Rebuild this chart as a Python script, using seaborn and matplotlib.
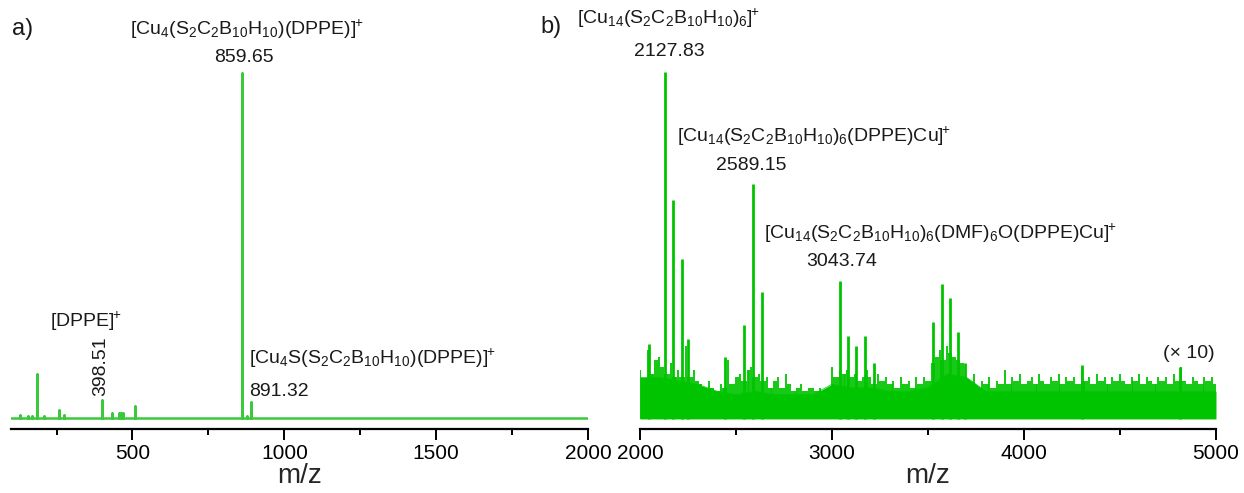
import numpy as np
import pandas as pd
import matplotlib
matplotlib.use("Agg")
import matplotlib.pyplot as plt
from matplotlib.ticker import MultipleLocator
import seaborn as sns

# ---------------- data ----------------
# panel a: stick peaks (m/z, relative intensity)
a_mz = [130, 155, 170, 187, 210, 257, 275, 398.51, 434, 455, 462, 468, 507, 859.65, 878, 891.32]
a_int = [0.8, 0.6, 0.5, 12.8, 0.5, 2.3, 0.8, 5.2, 1.5, 1.4, 1.3, 1.4, 3.5, 100, 0.6, 4.6]
a_range = [100, 2000]

# panel b: noise spike tops every 20 m/z from 2000 to 5000 (x10 expanded)
b_noise_start, b_noise_step = 2000, 20
b_noise = [14, 11, 20, 13, 17, 18,
           15, 13, 16, 12, 14, 12, 21, 12, 14, 11,
           10, 8, 11, 9, 8, 10, 9, 17, 10, 12,
           13, 11, 14, 15, 12, 13, 11, 12, 9, 11,
           12, 9, 13, 10, 8, 9, 10, 8, 9, 9,
           8, 9, 7, 8, 15, 12, 14, 13, 14, 12,
           13, 11, 12, 14, 12, 10, 13, 11, 12, 10,
           11, 9, 12, 10, 11, 9, 12, 10, 12, 11,
           16, 18, 20, 17, 21, 19, 18, 17, 16, 12,
           10, 13, 9, 11, 10, 12, 9, 11, 10, 14,
           10, 12, 11, 13, 10, 11, 12, 10, 13, 11,
           10, 12, 11, 13, 10, 12, 11, 12, 10, 15,
           11, 12, 10, 13, 11, 12, 10, 12, 11, 13,
           11, 10, 12, 11, 13, 10, 12, 11, 10, 12,
           11, 12, 10, 13, 11, 15, 11, 10, 12, 11,
           10, 12, 11, 12, 10]
# panel b: solid noise floor every 100 m/z from 2000 to 5000
b_floor_step = 100
b_floor = [12, 12, 11, 10, 8, 7, 8, 7, 7, 7,
           10, 9, 9, 8, 8, 9, 13, 12, 8, 8,
           8, 8, 8, 8, 8, 8, 8, 8, 8, 8, 8]
# panel b: stick peaks
b_mz = [2047, 2127.83, 2172, 2218, 2250, 2443, 2542, 2589.15, 2635,
        3043.74, 3083, 3125, 3172, 3219, 3526, 3573, 3615, 3656, 3693, 4302, 4812]
b_int = [21.6, 100, 63, 46, 23, 18, 27, 67.7, 36.6,
         39.8, 24, 21, 24, 16, 28, 39, 35, 25, 16, 15.5, 15]
b_range = [2000, 5000]

a_ticks = [500, 1000, 1500, 2000]
b_ticks = [2000, 3000, 4000, 5000]

# ---------------- style ----------------
sns.set_style("white")
plt.rcParams['font.family'] = ['Liberation Sans', 'DejaVu Sans']
plt.rcParams['mathtext.fontset'] = 'custom'
plt.rcParams['mathtext.rm'] = 'Liberation Sans'
plt.rcParams['mathtext.it'] = 'Liberation Sans:italic'
plt.rcParams['mathtext.default'] = 'regular'

W, H = 1244, 493
fig = plt.figure(figsize=(W / 100, H / 100), dpi=100)

def fpos(x0, x1, ytop, ybot):
    return [x0 / W, 1 - ybot / H, (x1 - x0) / W, (ybot - ytop) / H]

ax_a = fig.add_axes(fpos(11, 588, 60, 429))
ax_b = fig.add_axes(fpos(640, 1216, 60, 429))

col_a = '#3cc83c'
col_b = '#00c400'

# panel a spectrum as stick line
xs, ys = [a_range[0]], [0]
for m, h in zip(a_mz, a_int):
    xs += [m, m, m]
    ys += [0, h, 0]
xs.append(a_range[1]); ys.append(0)
df_a = pd.DataFrame({'mz': xs, 'I': ys})
sns.lineplot(data=df_a, x='mz', y='I', ax=ax_a, estimator=None, sort=False,
             color=col_a, lw=1.8)

# panel b: noise floor + noise spikes + peaks
fmz = b_noise_start + b_floor_step * np.arange(len(b_floor))
df_f = pd.DataFrame({'mz': fmz, 'I': b_floor})
ax_b.fill_between(fmz, 0, b_floor, color=col_b, lw=0)
sns.lineplot(data=df_f, x='mz', y='I', ax=ax_b, estimator=None, color=col_b, lw=0.5)
nmz = b_noise_start + b_noise_step * np.arange(len(b_noise))
ax_b.vlines(nmz, 0, b_noise, color=col_b, lw=1.3)
nmz2 = nmz[:-1] + b_noise_step / 2
ax_b.vlines(nmz2, 0, np.minimum(b_noise[:-1], b_noise[1:]), color=col_b, lw=1.3)
ax_b.vlines(b_mz, 0, b_int, color=col_b, lw=2.0)

for ax, rng, ticks, minor, ylim in [
        (ax_a, a_range, a_ticks, 250, (-3.2, 103.8)),
        (ax_b, b_range, b_ticks, 500, (-2.9, 103.5))]:
    ax.set_xlim(rng)
    ax.set_ylim(ylim)
    ax.set_xticks(ticks)
    ax.xaxis.set_minor_locator(MultipleLocator(minor))
    ax.set_yticks([])
    for s in ['left', 'right', 'top']:
        ax.spines[s].set_visible(False)
    ax.spines['bottom'].set_linewidth(1.6)
    ax.spines['bottom'].set_color('black')
    ax.tick_params(axis='x', which='major', direction='out', length=8, width=1.4,
                   labelsize=15, pad=3, bottom=True, colors='black')
    ax.tick_params(axis='x', which='minor', direction='out', length=4, width=1.4,
                   bottom=True, colors='black')
    ax.set_xlabel('m/z', fontsize=20, labelpad=0)
    ax.set_ylabel('')
    ax.patch.set_alpha(0)

def ftext(x, y, s, size=14, ha='center', va='center', rot=0):
    fig.text(x / W, 1 - y / H, s, fontsize=size, ha=ha, va=va, rotation=rot, color='#1a1a1a')

P = r'^{\!\!+}'
ftext(12, 29, 'a)', size=17, ha='left')
ftext(540, 27, 'b)', size=17, ha='left')

ftext(247, 29, r'$[Cu_4(S_2C_2B_{10}H_{10})(DPPE)]' + P + '$')
ftext(244, 58, '859.65')
ftext(86, 321, r'$[DPPE]' + P + '$')
ftext(101, 366, '398.51', rot=90)
ftext(249, 358, r'$[Cu_4S(S_2C_2B_{10}H_{10})(DPPE)]' + P + '$', ha='left')
ftext(249, 392, '891.32', ha='left')

ftext(577, 18, r'$[Cu_{14}(S_2C_2B_{10}H_{10})_6]' + P + '$', ha='left')
ftext(669, 52, '2127.83')
ftext(677, 136, r'$[Cu_{14}(S_2C_2B_{10}H_{10})_6(DPPE)Cu]' + P + '$', ha='left')
ftext(751, 165, '2589.15')
ftext(764, 233, r'$[Cu_{14}(S_2C_2B_{10}H_{10})_6(DMF)_6O(DPPE)Cu]' + P + '$', ha='left')
ftext(842, 262, '3043.74')
ftext(1215, 353, '(× 10)', ha='right')

fig.savefig('out.png', dpi=100)
